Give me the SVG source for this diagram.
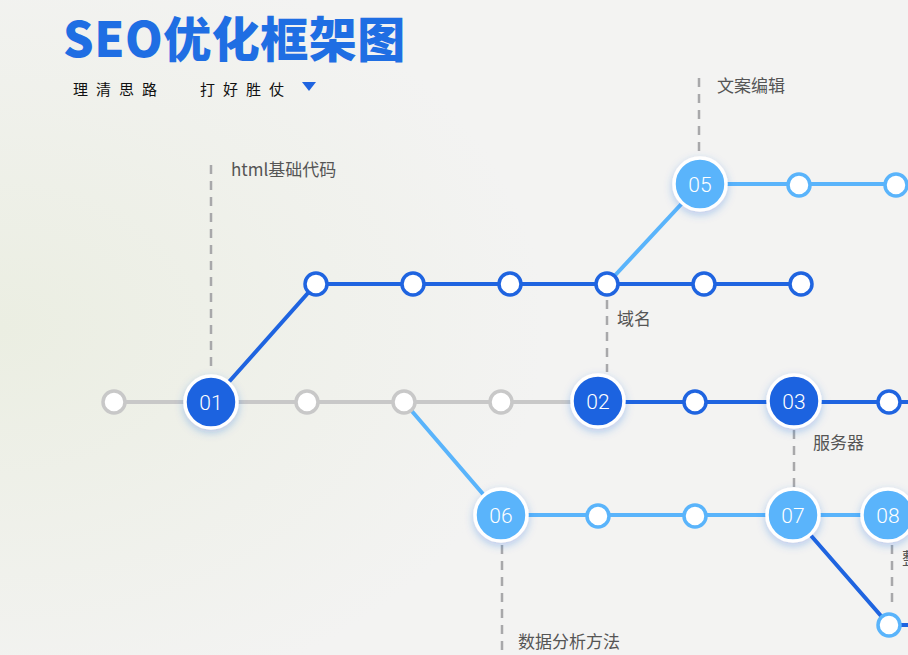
<svg xmlns="http://www.w3.org/2000/svg" width="908" height="655" viewBox="0 0 908 655">
<defs>
<radialGradient id="bg" cx="0" cy="0.5" r="0.6"><stop offset="0" stop-color="#ebeee2"/><stop offset="1" stop-color="#f3f3f2"/></radialGradient>
<filter id="sh" x="-50%" y="-50%" width="200%" height="200%"><feDropShadow dx="0" dy="3" stdDeviation="4" flood-color="#1f64e0" flood-opacity="0.3"/></filter>
</defs>
<style>
.g{stroke:#c8c8c8;stroke-width:4;fill:none}
.d{stroke:#1f64e0;stroke-width:4;fill:none}
.l{stroke:#5ab4fb;stroke-width:4;fill:none}
.dash{stroke:#a8a8aa;stroke-width:2.5;stroke-dasharray:9 7;fill:none}
.sg{fill:#fff;stroke:#c8c8c8;stroke-width:3.5}
.sd{fill:#fff;stroke:#1f64e0;stroke-width:3.5}
.sl{fill:#fff;stroke:#5ab4fb;stroke-width:3.5}
.bd{fill:#1f64e0;stroke:#fff;stroke-width:3.5;filter:url(#sh)}
.bl{fill:#5ab4fb;stroke:#fff;stroke-width:3.5;filter:url(#sh)}
.n{font-family:Roboto,"Liberation Sans",sans-serif;font-size:21px;font-weight:300;fill:#fff;text-anchor:middle}
.t{font-family:"Noto Sans CJK SC","Liberation Sans",sans-serif;font-size:17px;fill:#555}
</style>
<rect width="908" height="655" fill="url(#bg)"/>
<text x="63" y="57" font-family="'Noto Sans CJK SC',sans-serif" font-size="48" font-weight="900" fill="#1f6ee3" letter-spacing="0.5">SEO优化框架图</text>
<text x="73" y="95" font-family="'Noto Sans CJK SC',sans-serif" font-size="15" fill="#111" letter-spacing="8">理清思路</text>
<text x="200" y="95" font-family="'Noto Sans CJK SC',sans-serif" font-size="15" fill="#111" letter-spacing="8">打好胜仗</text>
<polygon points="302,82 316,82 309,91" fill="#1f64e0"/>
<g id="connectors">
<line class="g" x1="114" y1="402" x2="580" y2="402"/>
<polyline class="d" points="211,402 316,284 801,284"/>
<polyline class="l" points="607,284 700,184 908,184"/>
<line class="d" x1="598" y1="402" x2="908" y2="402"/>
<polyline class="l" points="404,402 501,515 908,515"/>
<polyline class="d" points="793,515 889,625 908,625"/>
<line class="dash" x1="211" y1="165" x2="211" y2="372"/>
<line class="dash" x1="699" y1="78" x2="699" y2="158"/>
<line class="dash" x1="607" y1="300" x2="607" y2="372"/>
<line class="dash" x1="794" y1="430" x2="794" y2="488"/>
<line class="dash" x1="502" y1="545" x2="502" y2="655"/>
<line class="dash" x1="892" y1="545" x2="892" y2="602"/>
</g>
<g id="small-nodes">
<circle class="sg" cx="114" cy="402" r="11"/><circle class="sg" cx="307" cy="402" r="11"/><circle class="sg" cx="404" cy="402" r="11"/><circle class="sg" cx="501" cy="402" r="11"/>
<circle class="sd" cx="316" cy="284" r="11"/><circle class="sd" cx="413" cy="284" r="11"/><circle class="sd" cx="510" cy="284" r="11"/><circle class="sd" cx="607" cy="284" r="11"/><circle class="sd" cx="704" cy="284" r="11"/><circle class="sd" cx="801" cy="284" r="11"/>
<circle class="sl" cx="799" cy="185" r="11"/><circle class="sl" cx="896" cy="185" r="11"/>
<circle class="sd" cx="695" cy="402" r="11"/><circle class="sd" cx="889" cy="402" r="11"/>
<circle class="sl" cx="598" cy="516" r="11"/><circle class="sl" cx="695" cy="516" r="11"/>
<circle class="sl" cx="889" cy="625" r="11"/>
</g>
<g id="n01"><circle class="bd" cx="211" cy="402" r="26"/><text class="n" x="211" y="410">01</text></g>
<g id="n02"><circle class="bd" cx="598" cy="401" r="26"/><text class="n" x="598" y="409">02</text></g>
<g id="n03"><circle class="bd" cx="794" cy="401" r="26"/><text class="n" x="794" y="409">03</text></g>
<g id="n05"><circle class="bl" cx="700" cy="184" r="26"/><text class="n" x="700" y="192">05</text></g>
<g id="n06"><circle class="bl" cx="501" cy="515" r="26"/><text class="n" x="501" y="523">06</text></g>
<g id="n07"><circle class="bl" cx="793" cy="515" r="26"/><text class="n" x="793" y="523">07</text></g>
<g id="n08"><circle class="bl" cx="888" cy="515" r="26"/><text class="n" x="888" y="523">08</text></g>
<g id="labels">
<text class="t" x="231" y="176">html基础代码</text>
<text class="t" x="717" y="92">文案编辑</text>
<text class="t" x="617" y="325">域名</text>
<text class="t" x="813" y="449">服务器</text>
<text class="t" x="518" y="648">数据分析方法</text>
<text class="t" x="902" y="565">整</text>
</g>
</svg>
